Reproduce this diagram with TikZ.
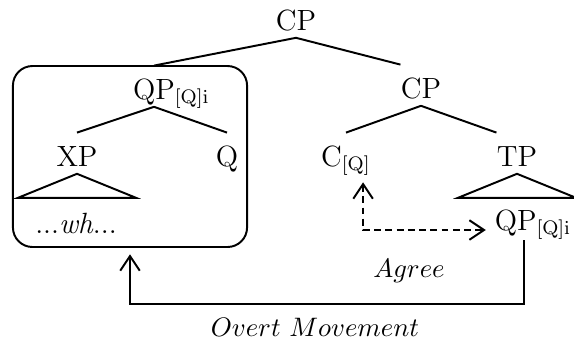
\documentclass[tikz,border=0pt]{standalone}
\usepackage{tikz}
\usetikzlibrary{
  arrows.meta,
  positioning, calc
}
\tikzset{
  cat/.style={font=\large,inner xsep=0pt,inner ysep=3pt,
    text height=10.5pt,text depth=0pt,anchor=base},
  lbl/.style={font=\fontsize{11}{13}\selectfont,inner sep=0pt,anchor=base},
  barb/.tip={Straight Barb[length=6pt,width=8pt]}
}

\begin{document}
\begin{tikzpicture}[
  x=0.41pt,y=-0.41pt,
  branch/.style={line width=0.8pt},
  mvarr/.style={-barb,line width=0.8pt,shorten <=1pt,shorten >=3pt},
  agrarr/.style={barb-barb,line width=0.8pt,dash pattern=on 2.8pt off 1.8pt,
    shorten <=3.5pt,shorten >=3.5pt},
  frame/.style={draw,line width=0.8pt,rounded corners=8pt,inner sep=0pt,
    outer sep=0pt,minimum width=96pt,minimum height=74.2pt}
]
\useasboundingbox (0,0) rectangle (574,342);

\node[cat] (root) at (296,30) {CP};

% moved phrase
\node[cat] (qp) at (154,99) {QP\rlap{$_{\mathrm{[Q]i}}$}};
\node[cat] (xp) at (77,166) {XP};
\node[cat] (q) at (227,166) {Q};
\node[cat] (wh) at (76,233) {...\textit{wh}...};
\node[frame] (qpbox) at (130,156.5) {};

% lower clause
\node[cat] (cp) at (421,98) {CP};
\node[cat] (cq) at (346,166) {C$_{\mathrm{[Q]}}$};
\node[cat] (tp) at (517,166) {TP};
\node[cat] (qpt) at (533,230) {QP$_{\mathrm{[Q]i}}$};

% Branches
\draw[branch] (root.south) -- (qp.north);
\draw[branch] (root.south) -- (cp.north west);
\draw[branch] (qp.south) -- (xp.north);
\draw[branch] (qp.south) -- (q.north);
\draw[branch] (cp.south) -- (cq.north);
\draw[branch] (cp.south) -- (tp.north west);
\draw[branch] (xp.south) -- ++(-59,24) -- ++(118,0) -- cycle;
\draw[branch] (tp.south) -- ++(-59,24) -- ++(118,0) -- cycle;

% Agree and movement
\draw[agrarr] ([xshift=7pt]cq.south) |- (qpt.base west);
\node[lbl] (agree) at (409,277) {$Agree$};
\draw[mvarr] ([xshift=-3.7pt]qpt.south) -- ++(0,66) -| (qpbox.south);
\node[lbl] (overt) at (315,336) {$Overt\ Movement$};

\end{tikzpicture}
\end{document}
